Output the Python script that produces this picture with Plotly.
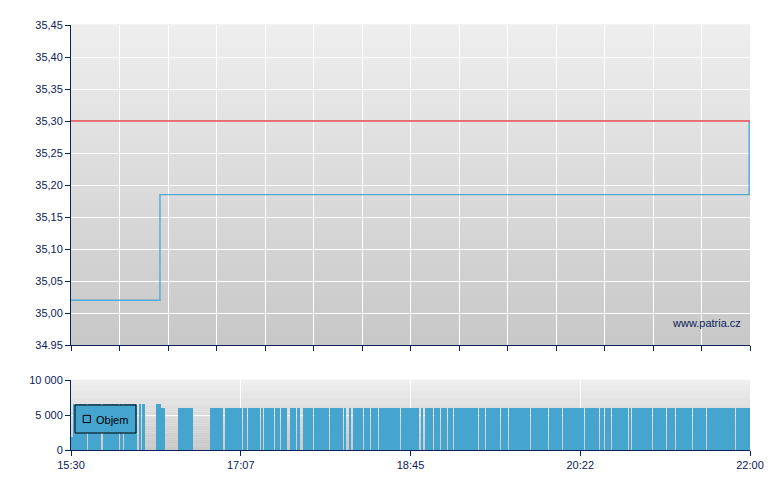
import plotly.graph_objects as go

# time is minutes after the 15:30 open
prev_close = 35.30
session_min = [0, 390]

price_min = [0, 51.1, 389.5]
price_val = [35.02, 35.185, 35.30]

# volume runs (from/to minute, volume)
vol_from = [0, 1.3, 9.8, 18.2, 28.3, 30.3, 34.1, 39.1, 41.2, 48.8,
            51.5, 61.5, 79.8, 88.5, 98.8, 101.7, 109.1, 111.0, 112.2, 113.2,
            114.5, 116.0, 117.2, 118.5, 120.4, 125.6, 129.8, 133.3, 139.4, 148.8,
            156.8, 159.5, 162.0, 168.5, 172.3, 176.9, 189.5, 201.0, 203.3, 208.5,
            212.5, 215.0, 216.5, 220.0, 234.3, 237.0, 238.4, 245.7, 247.0, 251.6,
            264.2, 272.7, 274.4, 282.6, 295.1, 302.5, 303.8, 306.7, 310.9, 320.5,
            322.2, 333.1, 334.3, 342.3, 346.3, 347.5, 357.3, 365.3, 380.8, 381.9]
vol_to = [1.3, 9.2, 17.4, 27.6, 29.9, 33.7, 38.1, 40.2, 42.3, 51.5,
          53.8, 69.9, 87.3, 98.2, 100.9, 108.4, 110.5, 111.8, 113.0, 113.9,
          115.6, 116.8, 118.1, 119.9, 124.1, 129.1, 131.5, 138.8, 148.2, 156.1,
          158.0, 160.8, 167.7, 171.7, 176.3, 189.0, 200.0, 202.3, 207.9, 212.1,
          214.6, 216.0, 219.4, 233.6, 236.6, 237.8, 245.3, 246.4, 251.0, 263.6,
          272.1, 273.8, 281.8, 294.5, 302.1, 303.3, 306.1, 310.3, 319.9, 321.6,
          332.6, 333.7, 341.8, 345.8, 346.9, 356.7, 364.7, 380.2, 381.4, 390]
vol_val = [1800, 6600, 6600, 6600, 6600, 6600, 6600, 6600, 6600, 6600,
           6000, 6000, 6000, 6000, 6000, 6000, 6000, 6000, 6000, 6000,
           6000, 6000, 6000, 6000, 6000, 6000, 6000, 6000, 6000, 6000,
           6000, 6000, 6000, 6000, 6000, 6000, 6000, 6000, 6000, 6000,
           6000, 6000, 6000, 6000, 6000, 6000, 6000, 6000, 6000, 6000,
           6000, 6000, 6000, 6000, 6000, 6000, 6000, 6000, 6000, 6000,
           6000, 6000, 6000, 6000, 6000, 6000, 6000, 6000, 6000, 6000]

price_ticks = [34.95, 35.00, 35.05, 35.10, 35.15, 35.20, 35.25, 35.30, 35.35, 35.40, 35.45]
price_tick_text = ['34.95', '35,00', '35,05', '35,10', '35,15', '35,20', '35,25',
                   '35,30', '35,35', '35,40', '35,45']
vol_ticks = [0, 5000, 10000]
vol_tick_text = ['0', '5 000', '10 000']
time_ticks = [0, 97.5, 195, 292.5, 390]
time_tick_text = ['15:30', '17:07', '18:45', '20:22', '22:00']

NAVY = '#0b2259'
BAR = '#45a5cf'
FONT = 'Liberation Sans, Arial, sans-serif'

fig = go.Figure()

fig.add_trace(go.Bar(
    x=[(a + b) / 2 for a, b in zip(vol_from, vol_to)],
    width=[b - a for a, b in zip(vol_from, vol_to)],
    y=vol_val, marker=dict(color=BAR, line=dict(width=0)),
    xaxis='x2', yaxis='y2', name='Objem', hoverinfo='skip'))

fig.add_trace(go.Scatter(
    x=price_min, y=price_val, mode='lines', line=dict(color='#52aad6', width=1.4, shape='hv'),
    hoverinfo='skip'))
fig.add_trace(go.Scatter(
    x=session_min, y=[prev_close, prev_close], mode='lines',
    line=dict(color='#e84848', width=1.3), hoverinfo='skip'))

# vertical gradient behind each panel
shapes = []
n = 40
for xr, yr in (('x domain', 'y domain'), ('x2 domain', 'y2 domain')):
    for i in range(n):
        t = (i + 0.5) / n
        c = int(200 + (239 - 200) * t)
        shapes.append(dict(type='rect', xref=xr, yref=yr, x0=0, x1=1,
                           y0=i / n, y1=(i + 1) / n + 0.002, layer='below',
                           fillcolor=f'rgb({c},{c},{c})', line=dict(width=0)))

# boxed key for the volume panel
shapes.append(dict(type='rect', xref='paper', yref='paper', x0=0.0059, x1=0.0957,
                   y0=0.040, y1=0.1059, fillcolor=BAR, line=dict(color='black', width=1)))
shapes.append(dict(type='rect', xref='paper', yref='paper', x0=0.0180, x1=0.0285,
                   y0=0.0645, y1=0.0815, fillcolor=BAR, line=dict(color='black', width=1)))

axis_common = dict(showline=True, linecolor=NAVY, linewidth=1, ticks='outside',
                   ticklen=5, tickcolor=NAVY, gridcolor='white', gridwidth=1,
                   zeroline=False, tickfont=dict(family=FONT, size=11, color=NAVY))

fig.update_layout(
    width=780, height=490,
    margin=dict(l=63, r=38, t=17, b=48),
    paper_bgcolor='white', plot_bgcolor='rgba(0,0,0,0)',
    font=dict(family=FONT, size=11, color=NAVY),
    shapes=shapes,
    showlegend=False,
    xaxis=dict(axis_common, range=[0, 390], domain=[0, 1], anchor='y',
               tick0=0, dtick=390 / 14, showticklabels=False),
    yaxis=dict(axis_common, range=[34.95, 35.45], domain=[0.247, 1], anchor='x',
               tickvals=price_ticks, ticktext=price_tick_text),
    xaxis2=dict(axis_common, range=[0, 390], domain=[0, 1], anchor='y2',
                tickvals=time_ticks, ticktext=time_tick_text),
    yaxis2=dict(axis_common, range=[0, 10000], domain=[0, 0.1647], anchor='x2',
                tickvals=vol_ticks, ticktext=vol_tick_text),
    bargap=0,
    annotations=[
        dict(text='www.patria.cz', xref='x domain', yref='y domain',
             x=0.99, y=0.069, xanchor='right', yanchor='middle',
             showarrow=False, font=dict(family=FONT, size=11, color=NAVY)),
        dict(text='Objem', xref='paper', yref='paper', x=0.0345, y=0.071,
             xanchor='left', yanchor='middle', showarrow=False,
             font=dict(family=FONT, size=11, color='black')),
    ],
)

fig.write_html("out.html")
